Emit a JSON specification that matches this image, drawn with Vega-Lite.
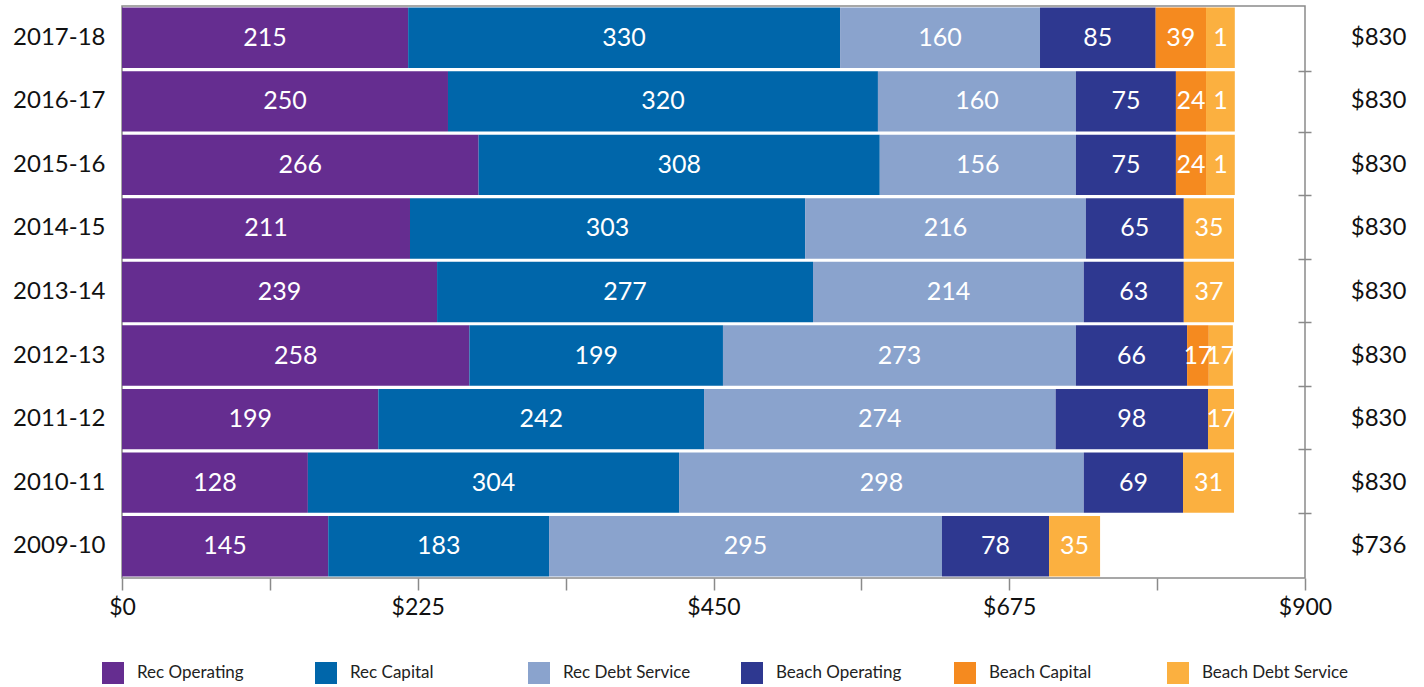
{
  "$schema": "https://vega.github.io/schema/vega-lite/v6.json",
  "width": 1183,
  "height": 572,
  "autosize": {"type": "none"},
  "padding": {"left": 122, "top": 6, "right": 119, "bottom": 109},
  "background": "white",
  "config": {
    "font": "Lato",
    "view": {"stroke": "#8a8a8a", "strokeWidth": 1.5},
    "axis": {"labelFont": "Lato", "labelColor": "#111111", "title": null, "grid": false}
  },
  "datasets": {
    "segments": [
      {"year": "2017-18", "series": "Rec Operating", "order": 1, "value": 215, "length": 217.7},
      {"year": "2017-18", "series": "Rec Capital", "order": 2, "value": 330, "length": 328.6},
      {"year": "2017-18", "series": "Rec Debt Service", "order": 3, "value": 160, "length": 152.1},
      {"year": "2017-18", "series": "Beach Operating", "order": 4, "value": 85, "length": 88.0},
      {"year": "2017-18", "series": "Beach Capital", "order": 5, "value": 39, "length": 38.3},
      {"year": "2017-18", "series": "Beach Debt Service", "order": 6, "value": 1, "length": 21.9},
      {"year": "2016-17", "series": "Rec Operating", "order": 1, "value": 250, "length": 248.0},
      {"year": "2016-17", "series": "Rec Capital", "order": 2, "value": 320, "length": 327.1},
      {"year": "2016-17", "series": "Rec Debt Service", "order": 3, "value": 160, "length": 150.6},
      {"year": "2016-17", "series": "Beach Operating", "order": 4, "value": 75, "length": 76.1},
      {"year": "2016-17", "series": "Beach Capital", "order": 5, "value": 24, "length": 22.9},
      {"year": "2016-17", "series": "Beach Debt Service", "order": 6, "value": 1, "length": 21.9},
      {"year": "2015-16", "series": "Rec Operating", "order": 1, "value": 266, "length": 271.3},
      {"year": "2015-16", "series": "Rec Capital", "order": 2, "value": 308, "length": 305.2},
      {"year": "2015-16", "series": "Rec Debt Service", "order": 3, "value": 156, "length": 149.2},
      {"year": "2015-16", "series": "Beach Operating", "order": 4, "value": 75, "length": 76.1},
      {"year": "2015-16", "series": "Beach Capital", "order": 5, "value": 24, "length": 22.9},
      {"year": "2015-16", "series": "Beach Debt Service", "order": 6, "value": 1, "length": 21.9},
      {"year": "2014-15", "series": "Rec Operating", "order": 1, "value": 211, "length": 219.1},
      {"year": "2014-15", "series": "Rec Capital", "order": 2, "value": 303, "length": 300.6},
      {"year": "2014-15", "series": "Rec Debt Service", "order": 3, "value": 216, "length": 213.6},
      {"year": "2014-15", "series": "Beach Operating", "order": 4, "value": 65, "length": 74.5},
      {"year": "2014-15", "series": "Beach Debt Service", "order": 6, "value": 35, "length": 38.2},
      {"year": "2013-14", "series": "Rec Operating", "order": 1, "value": 239, "length": 239.7},
      {"year": "2013-14", "series": "Rec Capital", "order": 2, "value": 277, "length": 286.0},
      {"year": "2013-14", "series": "Rec Debt Service", "order": 3, "value": 214, "length": 206.0},
      {"year": "2013-14", "series": "Beach Operating", "order": 4, "value": 63, "length": 76.1},
      {"year": "2013-14", "series": "Beach Debt Service", "order": 6, "value": 37, "length": 38.2},
      {"year": "2012-13", "series": "Rec Operating", "order": 1, "value": 258, "length": 264.3},
      {"year": "2012-13", "series": "Rec Capital", "order": 2, "value": 199, "length": 192.9},
      {"year": "2012-13", "series": "Rec Debt Service", "order": 3, "value": 273, "length": 268.5},
      {"year": "2012-13", "series": "Beach Operating", "order": 4, "value": 66, "length": 84.6},
      {"year": "2012-13", "series": "Beach Capital", "order": 5, "value": 17, "length": 16.5},
      {"year": "2012-13", "series": "Beach Debt Service", "order": 6, "value": 17, "length": 18.3},
      {"year": "2011-12", "series": "Rec Operating", "order": 1, "value": 199, "length": 195.0},
      {"year": "2011-12", "series": "Rec Capital", "order": 2, "value": 242, "length": 247.8},
      {"year": "2011-12", "series": "Rec Debt Service", "order": 3, "value": 274, "length": 267.5},
      {"year": "2011-12", "series": "Beach Operating", "order": 4, "value": 98, "length": 115.9},
      {"year": "2011-12", "series": "Beach Debt Service", "order": 6, "value": 17, "length": 19.8},
      {"year": "2010-11", "series": "Rec Operating", "order": 1, "value": 128, "length": 141.4},
      {"year": "2010-11", "series": "Rec Capital", "order": 2, "value": 304, "length": 282.4},
      {"year": "2010-11", "series": "Rec Debt Service", "order": 3, "value": 298, "length": 307.9},
      {"year": "2010-11", "series": "Beach Operating", "order": 4, "value": 69, "length": 75.5},
      {"year": "2010-11", "series": "Beach Debt Service", "order": 6, "value": 31, "length": 38.8},
      {"year": "2009-10", "series": "Rec Operating", "order": 1, "value": 145, "length": 156.9},
      {"year": "2009-10", "series": "Rec Capital", "order": 2, "value": 183, "length": 168.0},
      {"year": "2009-10", "series": "Rec Debt Service", "order": 3, "value": 295, "length": 298.9},
      {"year": "2009-10", "series": "Beach Operating", "order": 4, "value": 78, "length": 81.5},
      {"year": "2009-10", "series": "Beach Debt Service", "order": 6, "value": 35, "length": 38.8}
    ],
    "totals": [
      {"year": "2017-18", "total": 830},
      {"year": "2016-17", "total": 830},
      {"year": "2015-16", "total": 830},
      {"year": "2014-15", "total": 830},
      {"year": "2013-14", "total": 830},
      {"year": "2012-13", "total": 830},
      {"year": "2011-12", "total": 830},
      {"year": "2010-11", "total": 830},
      {"year": "2009-10", "total": 736}
    ]
  },
  "resolve": {"axis": {"y": "independent"}},
  "layer": [
    {
      "data": {"name": "segments"},
      "transform": [
        {"stack": "length", "groupby": ["year"], "sort": [{"field": "order", "order": "ascending"}], "as": ["x0", "x1"]},
        {"calculate": "(datum.x0 + datum.x1) / 2", "as": "xmid"}
      ],
      "layer": [
        {
          "mark": {"type": "bar"},
          "encoding": {
            "y": {
              "field": "year", "type": "nominal",
              "sort": ["2017-18", "2016-17", "2015-16", "2014-15", "2013-14", "2012-13", "2011-12", "2010-11", "2009-10"],
              "scale": {"paddingInner": 0.05, "paddingOuter": 0.025},
              "axis": {"orient": "left", "ticks": false, "domain": false, "labelFontSize": 24, "labelPadding": 17, "labelColor": "#111111"}
            },
            "x": {
              "field": "x0", "type": "quantitative",
              "scale": {"domain": [0, 900], "nice": false, "zero": true},
              "axis": {
                "values": [0, 112.5, 225, 337.5, 450, 562.5, 675, 787.5, 900],
                "labelExpr": "datum.value % 225 === 0 ? '$' + datum.value : ''",
                "labelFontSize": 23, "labelPadding": 6, "tickSize": 12, "tickColor": "#8a8a8a", "tickWidth": 1.5,
                "domain": false, "labelFlush": false, "labelOverlap": false
              }
            },
            "x2": {"field": "x1"},
            "color": {
              "field": "series", "type": "nominal",
              "scale": {
                "domain": ["Rec Operating", "Rec Capital", "Rec Debt Service", "Beach Operating", "Beach Capital", "Beach Debt Service"],
                "range": ["#652D90", "#0066AA", "#8AA3CD", "#2E3890", "#F58A1F", "#FBB040"]
              },
              "legend": {
                "orient": "none", "legendX": -20, "legendY": 656, "direction": "horizontal",
                "columns": 6, "gridAlign": "all", "columnPadding": 31, "padding": 0,
                "title": null, "symbolType": "square", "symbolSize": 484, "symbolStrokeWidth": 0,
                "labelFont": "Lato", "labelFontSize": 17, "labelColor": "#222222", "labelOffset": 13, "labelLimit": 300
              }
            }
          }
        },
        {
          "mark": {"type": "text", "color": "white", "fontSize": 25, "font": "Lato", "align": "center", "baseline": "middle"},
          "encoding": {
            "y": {"field": "year", "type": "nominal", "sort": ["2017-18", "2016-17", "2015-16", "2014-15", "2013-14", "2012-13", "2011-12", "2010-11", "2009-10"]},
            "x": {"field": "xmid", "type": "quantitative"},
            "text": {"field": "value", "type": "quantitative"}
          }
        }
      ]
    },
    {
      "data": {"name": "totals"},
      "mark": {"type": "text", "fontSize": 24, "font": "Lato", "color": "#111111", "align": "center", "baseline": "middle"},
      "encoding": {
        "y": {
          "field": "year", "type": "nominal",
          "sort": ["2017-18", "2016-17", "2015-16", "2014-15", "2013-14", "2012-13", "2011-12", "2010-11", "2009-10"],
          "axis": {
            "orient": "right", "labels": false, "domain": false, "tickBand": "extent",
            "values": ["2016-17", "2015-16", "2014-15", "2013-14", "2012-13", "2011-12", "2010-11"],
            "tickSize": 13, "offset": -7, "tickColor": "#8a8a8a", "tickWidth": 1.5
          }
        },
        "x": {"datum": 956, "type": "quantitative"},
        "text": {"field": "total", "type": "quantitative", "format": "$d"}
      }
    }
  ]
}
